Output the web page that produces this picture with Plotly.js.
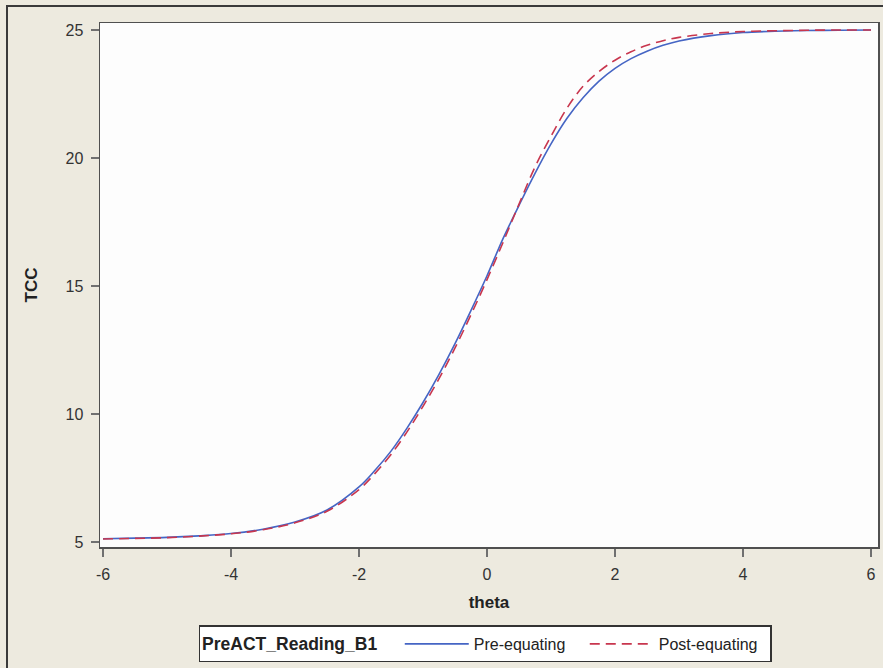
<!DOCTYPE html>
<html>
<head>
<meta charset="utf-8">
<script src="https://cdn.plot.ly/plotly-3.0.1.min.js"></script>
<style>
  html, body { margin: 0; padding: 0; background: #EDEADF; }
  #chart { width: 883px; height: 668px; }
  #frame { position: absolute; left: 6px; top: 5px; width: 900px; height: 700px;
           border-left: 2px solid #3a3a3a; border-top: 2px solid #3a3a3a; pointer-events: none; }
</style>
</head>
<body>
<div id="chart"></div>
<div id="frame"></div>
<script>
// theta grid (ability)
const thetaPre = [-6, -5.5, -5, -4.5, -4, -3.5, -3, -2.5, -2, -1.75, -1.5, -1.25, -1, -0.75, -0.5, -0.25,
  0, 0.25, 0.5, 0.75, 1, 1.25, 1.5, 1.75, 2, 2.25, 2.5, 2.75, 3, 3.5, 4, 4.5, 5, 5.5, 6];
// Pre-equating test characteristic curve
const tccPre = [5.13, 5.15, 5.18, 5.24, 5.33, 5.50, 5.78, 6.25, 7.15, 7.80, 8.55, 9.45, 10.45, 11.55, 12.75, 14.05,
  15.40, 16.85, 18.15, 19.40, 20.55, 21.55, 22.35, 23.00, 23.50, 23.88, 24.17, 24.40, 24.57, 24.78, 24.90, 24.95, 24.98, 24.99, 25.00];

const thetaPost = [-6, -5.5, -5, -4.5, -4, -3.5, -3, -2.5, -2, -1.75, -1.5, -1.25, -1, -0.75, -0.5, -0.25,
  0, 0.25, 0.5, 0.75, 1, 1.25, 1.5, 1.75, 2, 2.25, 2.5, 2.75, 3, 3.5, 4, 4.5, 5, 5.5, 6];
// Post-equating test characteristic curve
const tccPost = [5.12, 5.14, 5.17, 5.23, 5.32, 5.48, 5.75, 6.20, 7.05, 7.68, 8.42, 9.30, 10.30, 11.38, 12.58, 13.88,
  15.25, 16.70, 18.20, 19.65, 20.85, 21.95, 22.80, 23.38, 23.82, 24.15, 24.40, 24.58, 24.71, 24.86, 24.94, 24.97, 24.99, 25.00, 25.00];

const xTicks = [-6, -4, -2, 0, 2, 4, 6];
const yTicks = [5, 10, 15, 20, 25];
const seriesNames = ['Pre-equating', 'Post-equating'];
const legendTitle = 'PreACT_Reading_B1';

const FONT = '"Liberation Sans", Arial, sans-serif';

const traces = [
  { x: thetaPre, y: tccPre, type: 'scatter', mode: 'lines', name: seriesNames[0],
    line: { color: '#4565C4', width: 1.6, shape: 'spline', smoothing: 1 } },
  { x: thetaPost, y: tccPost, type: 'scatter', mode: 'lines', name: seriesNames[1],
    line: { color: '#C8364E', width: 1.6, dash: '10px,6px', shape: 'spline', smoothing: 1 } }
];

const axisCommon = {
  showgrid: false, zeroline: false, showline: true, mirror: true,
  linecolor: '#505050', linewidth: 1.5,
  ticks: 'outside', ticklen: 8, tickwidth: 1.5, tickcolor: '#707070',
  tickfont: { family: FONT, size: 16, color: '#333333' }
};

const layout = {
  width: 883, height: 668,
  paper_bgcolor: '#EDEADF', plot_bgcolor: '#FDFDFD',
  margin: { l: 100, r: 5, t: 23, b: 121 },
  font: { family: FONT, color: '#222' },
  xaxis: Object.assign({}, axisCommon, {
    range: [-6.047, 6.109], tickvals: xTicks, ticktext: xTicks.map(String),
    ticklabelstandoff: 4,
    title: { text: '<b>theta</b>', font: { family: FONT, size: 17, color: '#222' }, standoff: 14 }
  }),
  yaxis: Object.assign({}, axisCommon, {
    range: [4.805, 25.273], tickvals: yTicks, ticktext: yTicks.map(String),
    ticklabelstandoff: 4,
    title: { text: '<b>TCC</b>', font: { family: FONT, size: 17, color: '#222' }, standoff: 23 }
  }),
  showlegend: true,
  legend: {
    orientation: 'h', xref: 'paper', yref: 'container',
    x: 0.495, xanchor: 'center', y: 0.036, yanchor: 'middle',
    bgcolor: '#FFFFFF', bordercolor: '#333333', borderwidth: 1.5,
    font: { family: FONT, size: 16, color: '#222' },
    title: { text: '<b>' + legendTitle + '</b>&nbsp;&nbsp;&nbsp;', side: 'left', font: { family: FONT, size: 17.5, color: '#222' } },
    itemwidth: 64, entrywidth: 106, entrywidthmode: 'pixels', tracegroupgap: 0
  }
};

Plotly.newPlot('chart', traces, layout, { displayModeBar: false, staticPlot: true });
</script>
</body>
</html>
